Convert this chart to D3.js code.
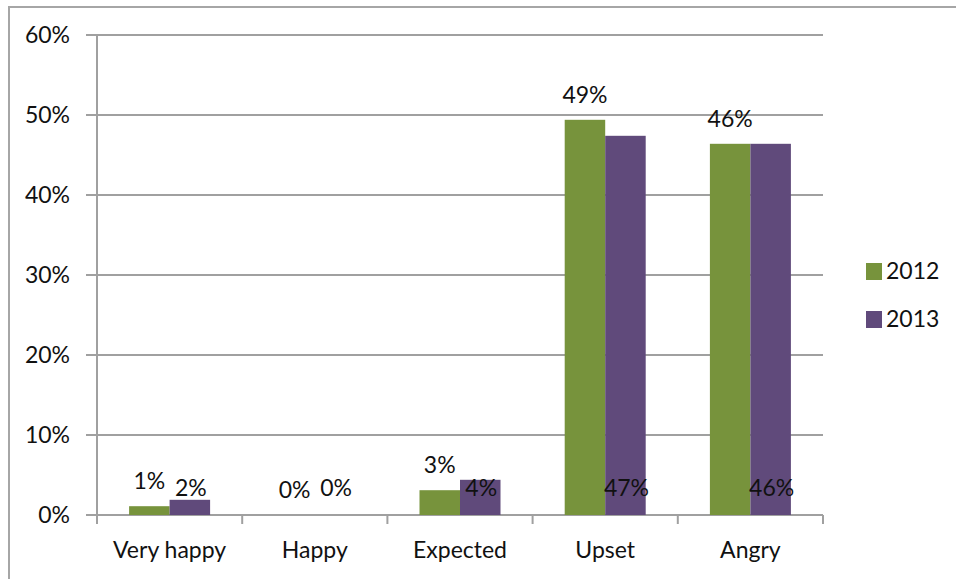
<!DOCTYPE html>
<html><head><meta charset="utf-8">
<script src="https://cdn.jsdelivr.net/npm/d3@7/dist/d3.min.js"></script>
<style>body{margin:0;background:#fff}svg{display:block}text{font-family:Lato,"Open Sans",sans-serif;fill:#111}</style>
</head><body><svg id="c" width="956" height="579"></svg>
<script>
const categories = ["Very happy","Happy","Expected","Upset","Angry"];
const series2012 = [1.1, 0, 3.1, 49.4, 46.4];
const series2013 = [1.9, 0, 4.4, 47.4, 46.4];
const labels2012 = ["1%","0%","3%","49%","46%"];
const labels2013 = ["2%","0%","4%","47%","46%"];
const seriesNames = ["2012","2013"];
const colors = ["#77933c","#604a7b"];
const yTicks = [0,10,20,30,40,50,60];

(function(){
const svg = d3.select("#c");
const fs = 23;
svg.append("rect").attr("x",9).attr("y",7).attr("width",960).attr("height",600)
  .attr("fill","none").attr("stroke","#a6a6a6").attr("stroke-width",2);

const pl=97,pr=823,pt=35,pb=515;
const x = d3.scaleBand().domain(categories).range([pl,pr]).paddingInner(0).paddingOuter(0);
const y = d3.scaleLinear().domain([0,60]).range([pb,pt]);
const barW = 40.5;

svg.append("g").selectAll("line").data(yTicks).join("line")
  .attr("x1",pl-11).attr("x2",pr).attr("y1",d=>y(d)).attr("y2",d=>y(d))
  .attr("stroke","#a0a0a0").attr("stroke-width",2);
svg.append("line").attr("x1",pl).attr("x2",pl).attr("y1",pt).attr("y2",pb)
  .attr("stroke","#a0a0a0").attr("stroke-width",2);
const tickXs = categories.map(c=>x(c)).concat([pr]);
svg.append("g").selectAll("line").data(tickXs).join("line")
  .attr("x1",d=>d).attr("x2",d=>d).attr("y1",pb).attr("y2",pb+9)
  .attr("stroke","#a0a0a0").attr("stroke-width",2);
svg.append("g").selectAll("text").data(yTicks).join("text")
  .attr("x",70).attr("y",d=>y(d)).attr("dy","0.35em").attr("text-anchor","end")
  .attr("font-size",fs).text(d=>d+"%");
svg.append("g").selectAll("text").data(categories).join("text")
  .attr("x",d=>x(d)+x.bandwidth()/2).attr("y",550).attr("dy","0.35em").attr("text-anchor","middle")
  .attr("font-size",fs).text(d=>d);

const bars = svg.append("g");
categories.forEach((c,i)=>{
  const cx = x(c)+x.bandwidth()/2;
  [series2012,series2013].forEach((s,j)=>{
    const x0 = cx - barW + j*barW;
    if (s[i] > 0) bars.append("rect").attr("x",x0).attr("width",barW)
      .attr("y",y(s[i])).attr("height",y(0)-y(s[i])).attr("fill",colors[j]);
  });
  svg.append("text").attr("x",cx-barW/2).attr("y",y(series2012[i])-25).attr("dy","0.35em")
    .attr("text-anchor","middle").attr("font-size",fs).text(labels2012[i]);
  svg.append("text").attr("x",cx+barW/2+1).attr("y",y(0)-27).attr("dy","0.35em")
    .attr("text-anchor","middle").attr("font-size",fs).text(labels2013[i]);
});

const lg = svg.append("g");
seriesNames.forEach((n,j)=>{
  const cy = 271 + j*48;
  lg.append("rect").attr("x",866).attr("y",cy-8).attr("width",16).attr("height",17).attr("fill",colors[j]);
  lg.append("text").attr("x",886).attr("y",cy).attr("dy","0.35em").attr("font-size",fs).text(n);
});
})();
</script></body></html>
